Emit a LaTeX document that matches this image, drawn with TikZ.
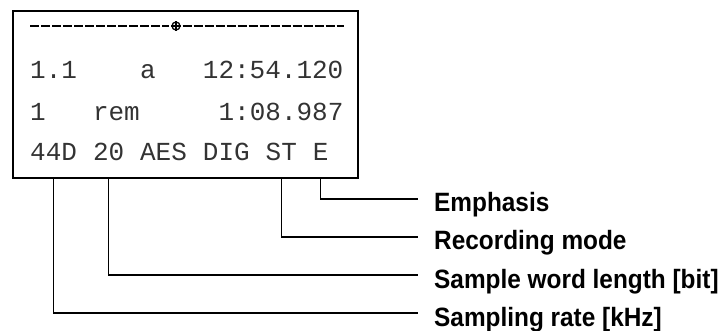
\documentclass[tikz,border=0pt]{standalone}
\usepackage{fontspec}
\setmainfont{Liberation Sans}
\setmonofont{Liberation Mono}
\newfontfamily\labfont[FakeStretch=0.92]{Liberation Sans}

\begin{document}
\begin{tikzpicture}[x=1pt, y=-1pt,
    lcd/.style={font=\ttfamily\fontsize{26}{26}\selectfont, text=black!80, anchor=base west, inner sep=0pt},
    lab/.style={font=\labfont\bfseries\fontsize{26.5}{26.5}\selectfont, anchor=base west, inner sep=0pt},
    wire/.style={line width=1.4pt}]
\useasboundingbox (0,0) rectangle (723,331);
% display frame
\node[draw, line width=2pt, minimum width=345pt, minimum height=167pt, inner sep=0pt, anchor=north west] (disp) at (12,10) {};
% top rule with marker
\node[circle, draw, line width=1.3pt, minimum size=8pt, inner sep=0pt] (mark) at (176,26) {};
\draw[line width=1.3pt] (mark.north) -- (mark.south) (mark.west) -- (mark.east);
\coordinate (ruleL) at (30,26);
\coordinate (ruleR) at (344,26);
\draw[line width=1.5pt, dash pattern=on 9pt off 2pt] (ruleL) -- ([xshift=-2pt]mark.west);
\draw[line width=1.5pt, dash pattern=on 9pt off 2pt] ([xshift=2pt]mark.east) -- (ruleR);
% first two rows
\foreach \col/\row/\txt [count=\i] in {0/79/1.1, 7/79/a, 11/79/12:54.120, 0/121/1, 4/121/rem, 12/121/1:08.987}
    \node[lcd] (r\i) at (30+15.7*\col, \row) {\txt};
% status row
\node[lcd] (rate) at (30,161) {44D};
\node[lcd] (word) at (30+4*15.7,161) {20};
\node[lcd] (aes) at (30+7*15.7,161) {AES};
\node[lcd] (dig) at (30+11*15.7,161) {DIG};
\node[lcd] (mode) at (30+15*15.7,161) {ST};
\node[lcd] (emph) at (30+18*15.7,161) {E};
% labels
\node[lab] (lemph) at (434,212) {Emphasis};
\node[lab] (lmode) at (434,250) {Recording mode};
\node[lab] (lword) at (434,288) {Sample word length [bit]};
\node[lab] (lrate) at (434,326) {Sampling rate [kHz]};
\foreach \a/\b in {emph/lemph, mode/lmode, word/lword, rate/lrate}
    \draw[wire] (\a.south |- disp.south) |- ([xshift=-16pt, yshift=13pt]\b.base west);
\end{tikzpicture}
\end{document}
